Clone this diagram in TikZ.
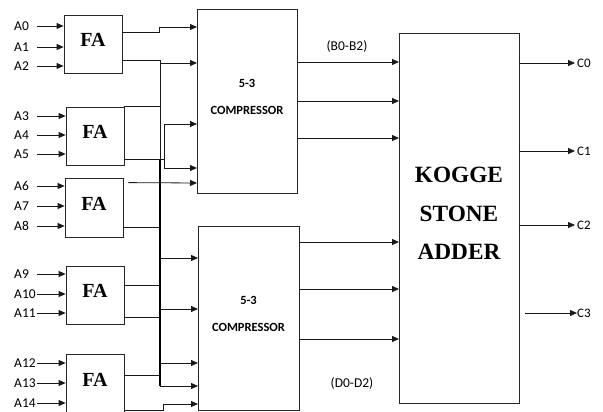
\documentclass[tikz,border=0pt]{standalone}
\usepackage{fontspec}
\setmainfont{Carlito}
\newfontfamily\blkserif{Liberation Serif}
\usetikzlibrary{calc,arrows.meta}
\tikzset{
  wire/.style={line width=0.8pt,draw=black!90},
  arr/.style={wire,-{Triangle[length=7pt,width=6pt]}},
  bus/.style={line width=1.6pt,draw=black},
  blk/.style={draw=black!85,line width=0.8pt,inner sep=0pt},
  fabox/.style={blk,minimum width=58pt,minimum height=58pt,text depth=8pt,font=\blkserif\bfseries\fontsize{20}{24}\selectfont},
  inlbl/.style={anchor=west,inner sep=0pt,text width=23pt,font=\fontsize{13.5}{15}\selectfont},
  outlbl/.style={anchor=west,inner sep=2pt,font=\fontsize{13}{15}\selectfont},
  cmptxt/.style={align=center,inner sep=0pt,font=\bfseries\fontsize{12.5}{27}\selectfont},
}
\begin{document}
\begin{tikzpicture}[x=1pt,y=-1pt]
\useasboundingbox (0,0) rectangle (603,412);
% full adders
\node[fabox] (fa1) at (93,44) {FA};
\node[fabox] (fa2) at (95,136) {FA};
\node[fabox,minimum height=59pt] (fa3) at (94,207.5) {FA};
\node[fabox] (fa4) at (95,295) {FA};
\node[fabox,minimum height=60pt] (fa5) at (95,384) {FA};
% inputs
\node[inlbl] (a0) at (14,26) {A0};
\node[inlbl] (a1) at (14,47) {A1};
\node[inlbl] (a2) at (14,66) {A2};
\node[inlbl] (a3) at (14,116) {A3};
\node[inlbl] (a4) at (14,135) {A4};
\node[inlbl] (a5) at (14,154) {A5};
\node[inlbl] (a6) at (14,186) {A6};
\node[inlbl] (a7) at (14,206) {A7};
\node[inlbl] (a8) at (14,226) {A8};
\node[inlbl] (a9) at (14,274) {A9};
\node[inlbl] (a10) at (14,294) {A10};
\node[inlbl] (a11) at (14,313) {A11};
\node[inlbl] (a12) at (14,363) {A12};
\node[inlbl] (a13) at (14,383) {A13};
\node[inlbl] (a14) at (14,403) {A14};
\draw[arr] (a0.east) -- (a0.east -| fa1.west);
\draw[arr] (a1.east) -- (a1.east -| fa1.west);
\draw[arr] (a2.east) -- (a2.east -| fa1.west);
\draw[arr] (a3.east) -- (a3.east -| fa2.west);
\draw[arr] (a4.east) -- (a4.east -| fa2.west);
\draw[arr] (a5.east) -- (a5.east -| fa2.west);
\draw[arr] (a6.east) -- (a6.east -| fa3.west);
\draw[arr] (a7.east) -- (a7.east -| fa3.west);
\draw[arr] (a8.east) -- (a8.east -| fa3.west);
\draw[arr] (a9.east) -- (a9.east -| fa4.west);
\draw[arr] (a10.east) -- (a10.east -| fa4.west);
\draw[arr] (a11.east) -- (a11.east -| fa4.west);
\draw[arr] (a12.east) -- (a12.east -| fa5.west);
\draw[arr] (a13.east) -- (a13.east -| fa5.west);
\draw[arr] (a14.east) -- (a14.east -| fa5.west);
% compressors and adder
\node[blk,minimum width=100pt,minimum height=184pt] (comp1) at (247,101) {};
\node[cmptxt] (cmp1txt) at (247,97) {5-3\\COMPRESSOR};
\node[blk,minimum width=101pt,minimum height=184pt] (comp2) at (248.5,318) {};
\node[cmptxt] (cmp2txt) at (248.5,314) {5-3\\COMPRESSOR};
\node[blk,minimum width=120pt,minimum height=370pt] (ksa) at (459,218) {};
\node[align=center,inner sep=0pt,font=\blkserif\bfseries\fontsize{23.3}{38.5}\selectfont] (ksatxt) at (459,213.5) {KOGGE\\STONE\\ADDER};
% ports
\coordinate (p1) at (197,27);
\coordinate (p2) at (197,63);
\coordinate (p3) at (197,124);
\coordinate (p4) at (197,168);
\coordinate (p5) at (197,183);
\coordinate (q1) at (198,258);
\coordinate (q2) at (198,309);
\coordinate (q3) at (198,363);
\coordinate (q4) at (198,386);
\coordinate (q5) at (198,404);
\coordinate (k1) at (399,62);
\coordinate (k2) at (399,101);
\coordinate (k3) at (399,138);
\coordinate (k4) at (399,242);
\coordinate (k5) at (399,289);
\coordinate (k6) at (399,339);
\coordinate (busend) at (160,386);
\coordinate (j2) at (164,168);
% wiring to the compressors
\draw[arr] ($(fa1.east)+(0,-12)$) -- ++(37,0) |- (p1);
\draw[wire] ($(fa1.east)+(0,16)$) -| (busend);
\draw[bus] (160,159) -- (busend);
\draw[arr] (busend) -- (q4);
\draw[arr] (p2 -| busend) -- (p2);
\draw[wire] (fa2.north east) -- (fa2.north east -| busend);
\draw[arr] ($(fa2.east)+(0,23)$) -| (j2) -- (p4);
\draw[arr] (j2) |- (p3);
\draw[arr] ($(fa3.north east)+(5,5)$) -- (p5);
\draw[wire] ($(fa3.east)+(0,19.5)$) -- ++(37,0);
\draw[arr] (q1 -| busend) -- (q1);
\draw[arr] (q2 -| busend) -- (q2);
\draw[arr] (q3 -| busend) -- (q3);
\draw[wire] ($(fa4.east)+(0,-10)$) -- ++(36,0);
\draw[wire] ($(fa4.east)+(0,22)$) -- ++(36,0);
\draw[wire] ($(fa5.east)+(0,-9)$) -- ++(36,0);
\draw[arr] ($(fa5.east)+(0,26)$) -- ++(39,0) |- (q5);
% compressor outputs
\draw[arr] (comp1.east |- k1) -- (k1);
\draw[arr] (comp1.east |- k2) -- (k2);
\draw[arr] (comp1.east |- k3) -- (k3);
\draw[arr] (comp2.east |- k4) -- (k4);
\draw[arr] (comp2.east |- k5) -- (k5);
\draw[arr] (comp2.east |- k6) -- (k6);
\node[font=\fontsize{13.5}{15}\selectfont] (blbl) at (347,46) {(B0-B2)};
\node[font=\fontsize{13.5}{15}\selectfont] (dlbl) at (352,383) {(D0-D2)};
% sums
\node[outlbl] (c0) at (575,63) {C0};
\node[outlbl] (c1) at (575,151) {C1};
\node[outlbl] (c2) at (575,225) {C2};
\node[outlbl,inner sep=0pt] (c3) at (577,313) {C3};
\coordinate (c3s) at (525,313);
\draw[arr] (ksa.east |- c0) -- (c0.west);
\draw[arr] (ksa.east |- c1) -- (c1.west);
\draw[arr] (ksa.east |- c2) -- (c2.west);
\draw[arr] (c3s) -- (c3.west);
\end{tikzpicture}
\end{document}
